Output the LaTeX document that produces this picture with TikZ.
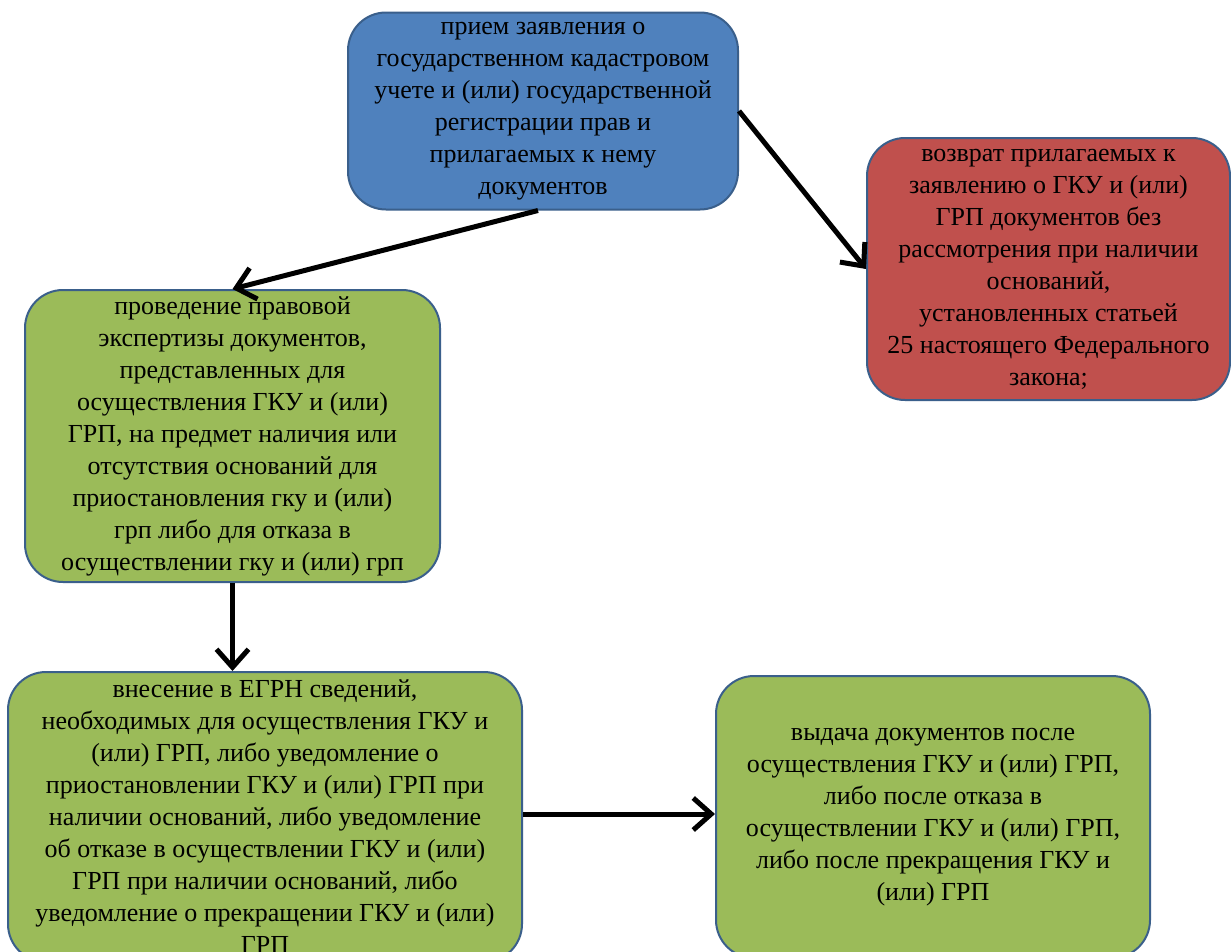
\documentclass[tikz,border=0pt]{standalone}
\usepackage{fontspec}
\setmainfont{Liberation Serif}
\usetikzlibrary{arrows.meta}
\definecolor{bblue}{HTML}{4F81BD}
\definecolor{bred}{HTML}{C0504D}
\definecolor{bgreen}{HTML}{9BBB59}
\definecolor{bline}{HTML}{3A5F8B}
\tikzset{
  box/.style={draw=bline, line width=2pt, rounded corners=38pt, align=center,
    inner sep=4pt, font=\fontsize{26}{32}\selectfont, text=black},
  conn/.style={line width=5pt, -{Straight Barb[length=18pt,width=32pt,line width=5pt]}}
}
\begin{document}
\begin{tikzpicture}[x=1pt,y=-1pt]
\useasboundingbox (0,0) rectangle (1231,951);
\clip (0,0) rectangle (1231,951);
\fill[white] (0,0) rectangle (1231,951);
\node[box, fill=bblue, minimum width=390pt, minimum height=197pt] (blue) at (543,111)
 {прием заявления о\\государственном кадастровом\\учете и (или) государственной\\регистрации прав и\\прилагаемых к нему\\документов};
\node[box, fill=bred, minimum width=363pt, minimum height=262pt] (red) at (1048.5,269)
 {возврат прилагаемых к\\заявлению о ГКУ и (или)\\ГРП документов без\\рассмотрения при наличии\\оснований,\\установленных статьей\\25 настоящего Федерального\\закона;};
\node[box, fill=bgreen, minimum width=415pt, minimum height=292pt] (g1) at (232.5,436)
 {проведение правовой\\экспертизы документов,\\представленных для\\осуществления ГКУ и (или)\\ГРП, на предмет наличия или\\отсутствия оснований для\\приостановления гку и (или)\\грп либо для отказа в\\осуществлении гку и (или) грп};
\node[box, fill=bgreen, minimum width=514pt, minimum height=290pt] (g2) at (265,817)
 {внесение в ЕГРН сведений,\\необходимых для осуществления ГКУ и\\(или) ГРП, либо уведомление о\\приостановлении ГКУ и (или) ГРП при\\наличии оснований, либо уведомление\\об отказе в осуществлении ГКУ и (или)\\ГРП при наличии оснований, либо\\уведомление о прекращении ГКУ и (или)\\ГРП};
\node[box, fill=bgreen, minimum width=434pt, minimum height=282pt] (g3) at (933,817)
 {выдача документов после\\осуществления ГКУ и (или) ГРП,\\либо после отказа в\\осуществлении ГКУ и (или) ГРП,\\либо после прекращения ГКУ и\\(или) ГРП};
\draw[conn] ([xshift=-5pt]blue.south) -- (g1.north);
\draw[conn] (blue.east) -- (red.west);
\draw[conn] (g1.south) -- (g1.south |- g2.north);
\draw[conn] ([yshift=3pt]g2.east) -- ([yshift=3pt]g2.east -| g3.west);
\end{tikzpicture}
\end{document}
